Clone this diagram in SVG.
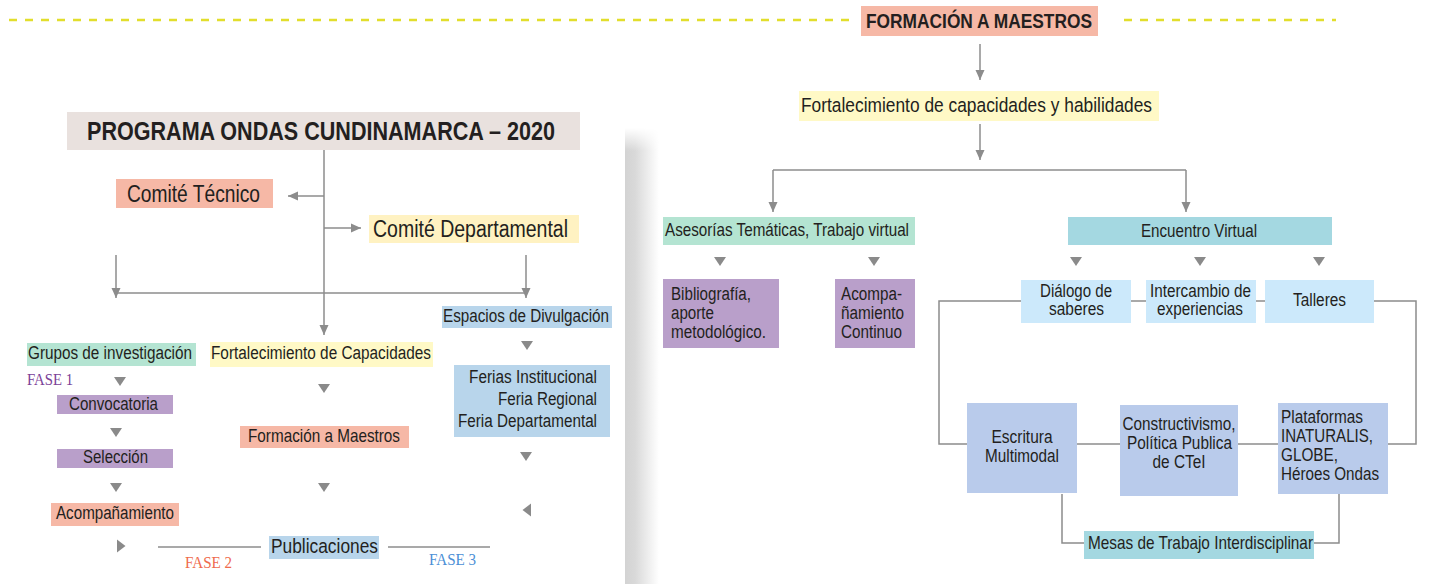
<svg xmlns="http://www.w3.org/2000/svg" width="1433" height="584" viewBox="0 0 1433 584">
<style>
.t{font-family:"Liberation Sans",Arial,sans-serif;fill:#231f20}
.b{font-weight:bold}
.s{font-family:"Liberation Serif","Times New Roman",serif}
.ln{stroke:#8c8c8c;stroke-width:1.5;fill:none}
.tri{fill:#8a8a8a}
.dash{stroke:#e2de2c;stroke-width:2.5;stroke-dasharray:8 8;fill:none}
.salmon{fill:#f6b8a6}.yel{fill:#fff9c6}.yel2{fill:#fff2c2}.mint{fill:#b4e4d2}
.teal{fill:#a4d8e1}.pur{fill:#b99fca}.lb{fill:#cce9fb}.lav{fill:#b9cbeb}
.sky{fill:#b8d5eb}.gr{fill:#e9e1de}
</style>
<defs>
<marker id="ah" markerUnits="userSpaceOnUse" markerWidth="10" markerHeight="10" viewBox="0 0 10 10" refX="10" refY="5" orient="auto">
<path d="M0,0.5 L10,5 L0,9.5 z" fill="#8c8c8c"/>
</marker>
<path id="td" d="M-6,0 L6,0 L0,9 z"/>
<path id="tl" d="M4,-6.5 L4,6.5 L-4.5,0 z"/>
<path id="tr" d="M-4,-6.5 L-4,6.5 L4.5,0 z"/>
<linearGradient id="sh" x1="0" x2="1" y1="0" y2="0">
<stop offset="0" stop-color="#d3d3d3"/>
<stop offset="0.3" stop-color="#d9d9d9"/>
<stop offset="1" stop-color="#ffffff"/>
</linearGradient>
<linearGradient id="shm" x1="0" x2="0" y1="0" y2="1">
<stop offset="0" stop-color="#000"/>
<stop offset="0.05" stop-color="#fff"/>
<stop offset="1" stop-color="#fff"/>
</linearGradient>
<mask id="m"><rect x="620" y="128" width="50" height="456" fill="url(#shm)"/></mask>
</defs>
<rect width="1433" height="584" fill="#ffffff"/>
<rect x="625" y="128" width="34" height="456" fill="url(#sh)" mask="url(#m)"/>

<g id="connectors">
<path class="dash" d="M9,20 H850"/>
<path class="dash" d="M1124,20 H1336"/>
<path class="ln" d="M980,44 V80" marker-end="url(#ah)"/>
<path class="ln" d="M980,124 V160" marker-end="url(#ah)"/>
<path class="ln" d="M773,170 H1186"/>
<path class="ln" d="M773,170 V212" marker-end="url(#ah)"/>
<path class="ln" d="M1186,170 V212" marker-end="url(#ah)"/>
<path class="ln" d="M1021,301 H939 V444 H967"/>
<path class="ln" d="M1131,301 H1146"/>
<path class="ln" d="M1256,301 H1265"/>
<path class="ln" d="M1374,301 H1416 V444 H1388"/>
<path class="ln" d="M1077,444 H1120"/>
<path class="ln" d="M1238,444 H1278"/>
<path class="ln" d="M1062,494 V543 H1084"/>
<path class="ln" d="M1314,543 H1339 V494"/>
<path class="ln" d="M324,150 V335" marker-end="url(#ah)"/>
<path class="ln" d="M324,196 H288" marker-end="url(#ah)"/>
<path class="ln" d="M324,228 H361" marker-end="url(#ah)"/>
<path class="ln" d="M116,293 H526"/>
<path class="ln" d="M116,255 V298" marker-end="url(#ah)"/>
<path class="ln" d="M526,255 V298" marker-end="url(#ah)"/>
<path class="ln" d="M158,547 H261"/>
<path class="ln" d="M388,547 H490"/>
<g class="tri">
<use href="#td" x="720" y="257"/>
<use href="#td" x="874" y="257"/>
<use href="#td" x="1076" y="257"/>
<use href="#td" x="1200" y="257"/>
<use href="#td" x="1319" y="257"/>
<use href="#td" x="120" y="377"/>
<use href="#td" x="324" y="384"/>
<use href="#td" x="527" y="341"/>
<use href="#td" x="116" y="428"/>
<use href="#td" x="116" y="483"/>
<use href="#td" x="324" y="483"/>
<use href="#td" x="526" y="452"/>
<use href="#tl" x="527" y="510"/>
<use href="#tr" x="121" y="546"/>
</g>
</g>

<g id="formacion-maestros-top"><rect class="salmon" x="861" y="6" width="237" height="30"/><text class="t b" x="866" y="28" font-size="20" textLength="226" lengthAdjust="spacingAndGlyphs">FORMACIÓN A MAESTROS</text></g>
<g id="fortalecimiento-habilidades"><rect class="yel" x="799" y="91" width="360" height="30"/><text class="t" x="801" y="112" font-size="20.5" textLength="351" lengthAdjust="spacingAndGlyphs">Fortalecimiento de capacidades y habilidades</text></g>
<g id="asesorias"><rect class="mint" x="663" y="217" width="252" height="28"/><text class="t" x="665" y="236" font-size="18.5" textLength="244" lengthAdjust="spacingAndGlyphs">Asesorías Temáticas, Trabajo virtual</text></g>
<g id="encuentro-virtual"><rect class="teal" x="1068" y="217" width="264" height="28"/><text class="t" x="1141" y="237" font-size="18.5" textLength="116" lengthAdjust="spacingAndGlyphs">Encuentro Virtual</text></g>
<g id="bibliografia"><rect class="pur" x="663" y="279" width="116" height="69"/>
<text class="t" font-size="18" x="671" y="300" textLength="80" lengthAdjust="spacingAndGlyphs">Bibliografía,</text>
<text class="t" font-size="18" x="671" y="319" textLength="43" lengthAdjust="spacingAndGlyphs">aporte</text>
<text class="t" font-size="18" x="671" y="338" textLength="95" lengthAdjust="spacingAndGlyphs">metodológico.</text></g>
<g id="acompanamiento-continuo"><rect class="pur" x="835" y="279" width="80" height="69"/>
<text class="t" font-size="18" x="841" y="300" textLength="61" lengthAdjust="spacingAndGlyphs">Acompa-</text>
<text class="t" font-size="18" x="841" y="319" textLength="63" lengthAdjust="spacingAndGlyphs">ñamiento</text>
<text class="t" font-size="18" x="841" y="338" textLength="61" lengthAdjust="spacingAndGlyphs">Continuo</text></g>
<g id="dialogo"><rect class="lb" x="1021" y="280" width="110" height="43"/>
<text class="t" font-size="17.5" x="1040" y="297" textLength="72" lengthAdjust="spacingAndGlyphs">Diálogo de</text>
<text class="t" font-size="17.5" x="1049" y="315" textLength="55" lengthAdjust="spacingAndGlyphs">saberes</text></g>
<g id="intercambio"><rect class="lb" x="1146" y="280" width="110" height="43"/>
<text class="t" font-size="17.5" x="1150" y="297" textLength="101" lengthAdjust="spacingAndGlyphs">Intercambio de</text>
<text class="t" font-size="17.5" x="1157" y="315" textLength="86" lengthAdjust="spacingAndGlyphs">experiencias</text></g>
<g id="talleres"><rect class="lb" x="1265" y="280" width="109" height="43"/>
<text class="t" font-size="17.5" x="1293" y="306" textLength="53" lengthAdjust="spacingAndGlyphs">Talleres</text></g>
<g id="escritura"><rect class="lav" x="967" y="403" width="110" height="90"/>
<text class="t" font-size="17.5" x="991.5" y="443" textLength="61" lengthAdjust="spacingAndGlyphs">Escritura</text>
<text class="t" font-size="17.5" x="985" y="462" textLength="74" lengthAdjust="spacingAndGlyphs">Multimodal</text></g>
<g id="constructivismo"><rect class="lav" x="1120" y="405" width="118" height="91"/>
<text class="t" font-size="17.5" x="1122.5" y="430" textLength="113" lengthAdjust="spacingAndGlyphs">Constructivismo,</text>
<text class="t" font-size="17.5" x="1127" y="449" textLength="105" lengthAdjust="spacingAndGlyphs">Política Publica</text>
<text class="t" font-size="17.5" x="1152.5" y="468" textLength="53" lengthAdjust="spacingAndGlyphs">de CTeI</text></g>
<g id="plataformas"><rect class="lav" x="1278" y="403" width="110" height="91"/>
<text class="t" font-size="17.5" x="1281" y="423" textLength="82" lengthAdjust="spacingAndGlyphs">Plataformas</text>
<text class="t" font-size="17.5" x="1281" y="442" textLength="92" lengthAdjust="spacingAndGlyphs">INATURALIS,</text>
<text class="t" font-size="17.5" x="1281" y="461" textLength="57" lengthAdjust="spacingAndGlyphs">GLOBE,</text>
<text class="t" font-size="17.5" x="1281" y="480" textLength="98" lengthAdjust="spacingAndGlyphs">Héroes Ondas</text></g>
<g id="mesas"><rect class="teal" x="1084" y="531" width="230" height="28"/>
<text class="t" font-size="18.5" x="1088" y="549" textLength="225" lengthAdjust="spacingAndGlyphs">Mesas de Trabajo Interdisciplinar</text></g>

<g id="programa"><rect class="gr" x="67" y="112" width="513" height="38"/>
<text class="t b" font-size="25.5" x="87" y="140" textLength="468" lengthAdjust="spacingAndGlyphs">PROGRAMA ONDAS CUNDINAMARCA – 2020</text></g>
<g id="comite-tecnico"><rect class="salmon" x="116" y="179" width="157" height="29"/>
<text class="t" font-size="23" x="127" y="202" textLength="133" lengthAdjust="spacingAndGlyphs">Comité Técnico</text></g>
<g id="comite-departamental"><rect class="yel2" x="369" y="215" width="210" height="28"/>
<text class="t" font-size="23" x="373" y="237" textLength="195" lengthAdjust="spacingAndGlyphs">Comité Departamental</text></g>
<g id="espacios"><rect class="sky" x="442" y="306" width="170" height="22"/>
<text class="t" font-size="17.5" x="443" y="322" textLength="166" lengthAdjust="spacingAndGlyphs">Espacios de Divulgación</text></g>
<g id="grupos"><rect class="mint" x="27" y="343" width="169" height="23"/>
<text class="t" font-size="18" x="28" y="359" textLength="164" lengthAdjust="spacingAndGlyphs">Grupos de investigación</text></g>
<g id="fortalecimiento-capacidades"><rect class="yel" x="210" y="342" width="223" height="25"/>
<text class="t" font-size="18" x="211" y="359" textLength="220" lengthAdjust="spacingAndGlyphs">Fortalecimiento de Capacidades</text></g>
<g id="fase1"><text class="s" font-size="17" x="27" y="385" fill="#7b3f98" textLength="46" lengthAdjust="spacingAndGlyphs">FASE 1</text></g>
<g id="convocatoria"><rect class="pur" x="57" y="395" width="116" height="19"/>
<text class="t" font-size="17.5" x="69" y="410" textLength="89" lengthAdjust="spacingAndGlyphs">Convocatoria</text></g>
<g id="formacion-maestros"><rect class="salmon" x="240" y="426" width="169" height="22"/>
<text class="t" font-size="18.5" x="248" y="442" textLength="152" lengthAdjust="spacingAndGlyphs">Formación a Maestros</text></g>
<g id="seleccion"><rect class="pur" x="57" y="449" width="116" height="19"/>
<text class="t" font-size="17.5" x="83" y="463" textLength="65" lengthAdjust="spacingAndGlyphs">Selección</text></g>
<g id="acompanamiento"><rect class="salmon" x="51" y="503" width="128" height="23"/>
<text class="t" font-size="18" x="56" y="519" textLength="118" lengthAdjust="spacingAndGlyphs">Acompañamiento</text></g>
<g id="ferias"><rect class="sky" x="454" y="365" width="156" height="72"/>
<text class="t" font-size="18" x="469" y="383" textLength="128" lengthAdjust="spacingAndGlyphs">Ferias Institucional</text>
<text class="t" font-size="18" x="498" y="405" textLength="99" lengthAdjust="spacingAndGlyphs">Feria Regional</text>
<text class="t" font-size="18" x="458" y="427" textLength="139" lengthAdjust="spacingAndGlyphs">Feria Departamental</text></g>
<g id="publicaciones"><rect class="sky" x="269" y="536" width="110" height="23"/>
<text class="t" font-size="20.5" x="271" y="553" textLength="107" lengthAdjust="spacingAndGlyphs">Publicaciones</text></g>
<g id="fase2"><text class="s" font-size="17.5" x="185" y="568" fill="#ef6b4d" textLength="47" lengthAdjust="spacingAndGlyphs">FASE 2</text></g>
<g id="fase3"><text class="s" font-size="17.5" x="429" y="565" fill="#4b8fd6" textLength="47" lengthAdjust="spacingAndGlyphs">FASE 3</text></g>
</svg>
